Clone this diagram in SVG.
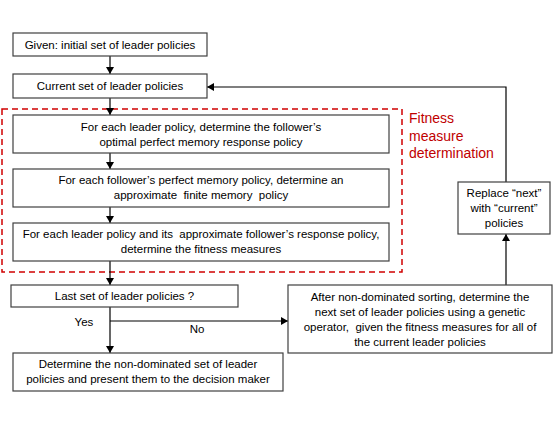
<svg xmlns="http://www.w3.org/2000/svg" width="554" height="428" viewBox="0 0 554 428">
<defs>
<marker id="ah" markerWidth="8" markerHeight="8" refX="7" refY="4" orient="auto" markerUnits="userSpaceOnUse">
<path d="M0,0 L7,4 L0,8 Z" fill="#000"/>
</marker>
<style>
.box{fill:#fff;stroke:#404040;stroke-width:1.2}
.t{font-family:"Liberation Sans",Arial,sans-serif;font-size:11.5px;fill:#000;text-anchor:middle;white-space:pre}
.c{stroke:#000;stroke-width:1.2;fill:none;marker-end:url(#ah)}
.red{font-family:"Liberation Sans",Arial,sans-serif;font-size:14px;fill:#c00000}
</style>
</defs>
<rect width="554" height="428" fill="#fff"/>
<g id="fitness-region">
<rect x="2" y="109" width="400" height="163" fill="none" stroke="#d00000" stroke-width="1.5" stroke-dasharray="6,4"/>
<text class="red" x="409" y="123">Fitness</text>
<text class="red" x="409" y="141">measure</text>
<text class="red" x="409" y="158">determination</text>
</g>
<g id="connectors">
<line class="c" x1="110" y1="56" x2="110" y2="74"/>
<line class="c" x1="110" y1="98" x2="110" y2="115"/>
<line class="c" x1="110" y1="153" x2="110" y2="169"/>
<line class="c" x1="110" y1="207" x2="110" y2="223"/>
<line class="c" x1="110" y1="261" x2="110" y2="285"/>
<line class="c" x1="110" y1="307" x2="110" y2="353"/>
<polyline class="c" points="110,321 288,321"/>
<line class="c" x1="506" y1="285" x2="506" y2="234"/>
<polyline class="c" points="506,182 506,87 207,87"/>
<text class="t" x="84" y="326">Yes</text>
<text class="t" x="197" y="333">No</text>
</g>
<g id="n-given">
<rect class="box" x="13" y="33" width="194" height="23"/>
<text class="t" x="110" y="48.5">Given: initial set of leader policies</text>
</g>
<g id="n-current">
<rect class="box" x="13" y="74" width="194" height="24"/>
<text class="t" x="110" y="90">Current set of leader policies</text>
</g>
<g id="n-optimal">
<rect class="box" x="13" y="115" width="376" height="38"/>
<text class="t" x="201" y="131">For each leader policy, determine the follower’s</text>
<text class="t" x="201" y="146">optimal perfect memory response policy</text>
</g>
<g id="n-finite">
<rect class="box" x="13" y="169" width="376" height="38"/>
<text class="t" x="201" y="184">For each follower’s perfect memory policy, determine an</text>
<text class="t" x="201" y="199">approximate  finite memory  policy</text>
</g>
<g id="n-fitness">
<rect class="box" x="13" y="223" width="376" height="38"/>
<text class="t" x="201" y="238">For each leader policy and its  approximate follower’s response policy,</text>
<text class="t" x="201" y="253">determine the fitness measures</text>
</g>
<g id="n-last">
<rect class="box" x="11" y="285" width="227" height="22"/>
<text class="t" x="124.5" y="300">Last set of leader policies ?</text>
</g>
<g id="n-nondominated">
<rect class="box" x="13" y="353" width="270" height="38"/>
<text class="t" x="148" y="368">Determine the non-dominated set of leader</text>
<text class="t" x="148" y="383">policies and present them to the decision maker</text>
</g>
<g id="n-next">
<rect class="box" x="288" y="285" width="264" height="68"/>
<text class="t" x="420" y="301">After non-dominated sorting, determine the</text>
<text class="t" x="420" y="316">next set of leader policies using a genetic</text>
<text class="t" x="420" y="331">operator,  given the fitness measures for all of</text>
<text class="t" x="420" y="346">the current leader policies</text>
</g>
<g id="n-replace">
<rect class="box" x="458" y="182" width="92" height="52"/>
<text class="t" x="504" y="197">Replace “next”</text>
<text class="t" x="504" y="212">with “current”</text>
<text class="t" x="504" y="227">policies</text>
</g>
</svg>
